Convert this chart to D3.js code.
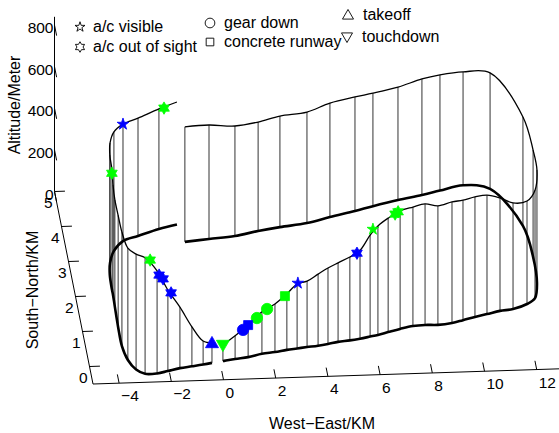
<!DOCTYPE html>
<html>
<head>
<meta charset="utf-8">
<script src="https://cdn.jsdelivr.net/npm/d3@7"></script>
<style>
  body { margin: 0; background: #fff; }
  text { font-family: "Liberation Sans", Arial, sans-serif; fill: #000; }
</style>
</head>
<body>
<svg id="chart" width="559" height="433"></svg>
<script>
// departure: takeoff, climb out west, turn north, then east (km, km, m)
const depX = [-0.31, -0.66, -1.10, -1.57, -2.05, -2.48, -2.94, -3.25, -3.49, -3.61, -3.61, -3.58, -3.56, -3.56, -3.53, -3.43, -3.19, -2.77, -2.16, -1.31, -0.59];
const depY = [-0.01, -0.05, -0.09, -0.13, -0.20, -0.26, -0.26, -0.13, 0.15, 0.55, 1.09, 1.67, 2.01, 2.15, 2.58, 2.92, 3.26, 3.53, 3.66, 3.84, 3.95];
const depZ = [96, 113, 190, 293, 389, 493, 558, 555, 538, 548, 538, 514, 529, 577, 577, 577, 572, 562, 567, 577, 589];

// arrival: downwind east, base turn south, final west to touchdown
const arrX = [-0.42, 0.52, 1.53, 2.45, 3.31, 4.37, 5.29, 6.29, 7.01, 8.01, 8.96, 9.68, 10.60, 11.60, 12.57, 12.72, 12.67, 12.48, 12.13, 11.56,
  11.05, 10.53, 10.05, 9.57, 9.13, 8.58, 8.09, 7.62, 7.11, 6.63, 6.22, 5.91, 5.51, 5.11, 4.65, 4.25, 3.86, 3.43, 3.04, 2.64, 2.17, 1.66, 1.11, 0.60, 0.12];
const arrY = [3.45, 3.51, 3.57, 3.69, 3.78, 3.87, 4.02, 4.17, 4.29, 4.44, 4.56, 4.67, 4.80, 4.67, 3.59, 2.70, 1.96, 1.53, 1.37, 1.24,
  1.20, 1.12, 1.05, 0.97, 0.90, 0.86, 0.87, 0.85, 0.78, 0.70, 0.63, 0.59, 0.54, 0.50, 0.47, 0.42, 0.38, 0.35, 0.32, 0.29, 0.24, 0.20, 0.12, 0.08, 0.03];
const arrZ = [553, 548, 529, 524, 534, 534, 548, 548, 543, 543, 558, 556, 545, 558, 524, 514, 543, 519, 495, 510,
  543, 572, 577, 577, 582, 572, 582, 572, 567, 548, 524, 488, 425, 401, 380, 365, 344, 317, 310, 269, 231, 202, 154, 111, 77];

// event markers
const markX = [-0.31, -1.92, -2.24, -2.40, -2.75, -3.56, -2.77, -1.11, 6.91, 7.03, 6.02, 5.39, 3.07, 2.56, 1.86, 1.46, 1.11, 0.91, 0.12];
const markY = [-0.01, -0.17, -0.22, -0.25, -0.27, 2.17, 3.53, 3.86, 0.75, 0.77, 0.60, 0.53, 0.32, 0.27, 0.21, 0.17, 0.12, 0.10, 0.03];
const markZ = [96, 370, 447, 471, 548, 558, 562, 577, 558, 565, 514, 413, 314, 262, 213, 178, 154, 135, 77];
const markShape = ["up", "hex", "hex", "hex", "hex", "hex", "pent", "hex", "hex", "hex", "pent", "hex", "pent", "square", "circle", "circle", "square", "circle", "down"];
const markColor = ["b", "b", "b", "b", "g", "g", "b", "g", "g", "g", "g", "b", "b", "g", "g", "g", "b", "b", "g"];

const xTicks = [-4, -2, 0, 2, 4, 6, 8, 10, 12];
const yTicks = [0, 1, 2, 3, 4, 5];
const zTicks = [0, 200, 400, 600, 800];

const legendLabels = ["a/c visible", "a/c out of sight", "gear down", "concrete runway", "takeoff", "touchdown"];
const legendShapes = ["pent", "hex", "circle", "square", "up", "down"];

const colors = { b: "#0000ff", g: "#00ff00" };

const svg = d3.select("#chart");

// oblique 3d projection: each axis scale gives a fraction along its axis edge
const origin = [93, 384];
const xEdge = [469.8, -15.3], yEdge = [-38.5, -192.5], zEdge = [0, -174.7];
const xScale = d3.scaleLinear().domain([-5, 13]).range([0, 1]);
const yScale = d3.scaleLinear().domain([-0.5, 5]).range([0, 1]);
const zScale = d3.scaleLinear().domain([0, 840]).range([0, 1]);

function proj(x, y, z) {
  const a = xScale(x), b = yScale(y), c = zScale(z);
  return [origin[0] + a * xEdge[0] + b * yEdge[0] + c * zEdge[0],
          origin[1] + a * xEdge[1] + b * yEdge[1] + c * zEdge[1]];
}

function starPath(n, rOut, rIn) {
  const pts = [];
  for (let i = 0; i < 2 * n; i++) {
    const r = i % 2 ? rIn : rOut;
    const a = -Math.PI / 2 + i * Math.PI / n;
    pts.push([r * Math.cos(a), r * Math.sin(a)]);
  }
  return "M" + pts.join("L") + "Z";
}

function shapePath(s, k) {
  if (s === "pent") return starPath(5, 6.2 * k, 6.2 * k * 0.382);
  if (s === "hex") return starPath(6, 6.2 * k, 6.2 * k * 0.577);
  if (s === "circle") return d3.symbol(d3.symbolCircle, Math.PI * (5.7 * k) ** 2)();
  if (s === "square") return d3.symbol(d3.symbolSquare, (9 * k) ** 2)();
  if (s === "up") return `M0,${-6.5 * k}L${6.5 * k},${4.8 * k}L${-6.5 * k},${4.8 * k}Z`;
  return `M0,${6.5 * k}L${6.5 * k},${-4.8 * k}L${-6.5 * k},${-4.8 * k}Z`;
}

// axes
const axes = svg.append("g").attr("stroke", "#000").attr("stroke-width", 1).attr("fill", "none");
const line2 = (p, q) => axes.append("line").attr("x1", p[0]).attr("y1", p[1]).attr("x2", q[0]).attr("y2", q[1]);

line2(proj(-5, -0.5, 0), proj(13, -0.5, 0));
line2(proj(-5, -0.5, 0), proj(-5, 5, 0));
line2(proj(-5, 5, 0), proj(-5, 5, 840));

xTicks.forEach(t => {
  const p = proj(t, -0.5, 0);
  line2(p, proj(t, -0.25, 0));
  svg.append("text").attr("x", p[0] + 2).attr("y", p[1] + 18)
    .attr("font-size", 15.5).text(String(t).replace("-", "\u2212"));
});
yTicks.forEach(t => {
  const p = proj(-5, t, 0);
  line2(p, proj(-4.6, t, 0));
  svg.append("text").attr("x", p[0] - 2).attr("y", p[1] + 16.5)
    .attr("text-anchor", "end").attr("font-size", 15.5).text(t);
});
zTicks.forEach(t => {
  const p = proj(-5, 5, t);
  line2(p, proj(-5, 4.7, t));
  svg.append("text").attr("x", p[0] - 1).attr("y", p[1] + 8)
    .attr("text-anchor", "end").attr("font-size", 15.5).text(t);
});

svg.append("text").attr("transform", "translate(19.5,105) rotate(-90)")
  .attr("text-anchor", "middle").attr("font-size", 16).text("Altitude/Meter");
svg.append("text").attr("transform", "translate(38,290) rotate(-90)")
  .attr("text-anchor", "middle").attr("font-size", 16).text("South\u2212North/KM");
svg.append("text").attr("x", 322).attr("y", 429)
  .attr("text-anchor", "middle").attr("font-size", 16).text("West\u2212East/KM");

// flight legs
const legs = [
  { x: depX, y: depY, z: depZ, drops: depX.length - 1 },
  { x: arrX, y: arrY, z: arrZ, drops: arrX.length }
];
const curve = d3.line().curve(d3.curveCatmullRom.alpha(0.5));

legs.forEach(leg => {
  const air = leg.x.map((d, i) => proj(d, leg.y[i], leg.z[i]));
  const ground = leg.x.map((d, i) => proj(d, leg.y[i], 0));

  svg.append("g").selectAll("line")
    .data(d3.range(leg.drops))
    .join("line")
    .attr("x1", i => air[i][0]).attr("y1", i => air[i][1])
    .attr("x2", i => ground[i][0]).attr("y2", i => ground[i][1])
    .attr("stroke", "#333").attr("stroke-width", 1);

  svg.append("path").attr("d", curve(ground))
    .attr("fill", "none").attr("stroke", "#000").attr("stroke-width", 2.6);
  svg.append("path").attr("d", curve(air))
    .attr("fill", "none").attr("stroke", "#000").attr("stroke-width", 1.3);
});

// event markers
svg.append("g").selectAll("path")
  .data(d3.range(markX.length))
  .join("path")
  .attr("transform", i => { const p = proj(markX[i], markY[i], markZ[i]); return `translate(${p[0]},${p[1]})`; })
  .attr("d", i => shapePath(markShape[i], 1))
  .attr("fill", i => colors[markColor[i]])
  .attr("stroke", i => colors[markColor[i]])
  .attr("stroke-width", 0.8);

// legend
const legPos = [[80, 27], [80, 47], [210, 23], [210, 42], [348, 15], [347, 37]];
const legend = svg.append("g");
legendLabels.forEach((lab, i) => {
  const [mx, my] = legPos[i];
  legend.append("path").attr("transform", `translate(${mx},${my})`)
    .attr("d", shapePath(legendShapes[i], 0.85))
    .attr("fill", "none").attr("stroke", "#000").attr("stroke-width", 0.9);
  legend.append("text").attr("x", mx + (i < 2 ? 13 : i < 4 ? 14 : 15)).attr("y", my + 5)
    .attr("font-size", 16).text(lab);
});
</script>
</body>
</html>
